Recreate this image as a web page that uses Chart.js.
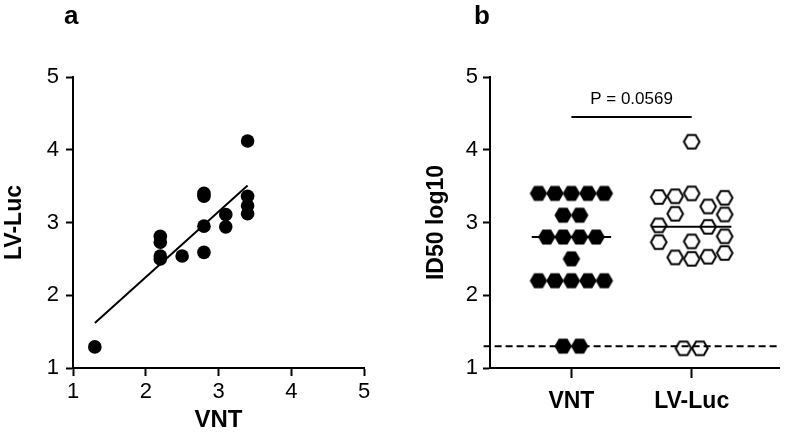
<!DOCTYPE html>
<html>
<head>
<meta charset="utf-8">
<script src="https://cdn.jsdelivr.net/npm/chart.js@4.4.1/dist/chart.umd.min.js"></script>
<style>
  html, body { margin: 0; padding: 0; background: #fff; }
  #wrap { position: relative; width: 788px; height: 435px; overflow: hidden; background: #fff; }
  canvas { position: absolute; top: 0; }
  .plabel { position: absolute; font: bold 26px "Liberation Sans", Arial, sans-serif; color: #000; line-height: 1; }
</style>
</head>
<body>
<div id="wrap">
  <canvas id="ca" width="390" height="435" style="left:0px"></canvas>
  <canvas id="cb" width="398" height="435" style="left:390px"></canvas>
  <div class="plabel" style="left:64px; top:2px;">a</div>
  <div class="plabel" style="left:474px; top:2px;">b</div>
</div>
<script>
// ---------- Panel a data (correlation) ----------
const corrVNT   = [1.3, 2.2, 2.2, 2.2, 2.2, 2.5, 2.8, 2.8, 2.8, 2.8, 3.1, 3.1, 3.4, 3.4, 3.4, 3.4];
const corrLVLuc = [1.29, 2.81, 2.73, 2.54, 2.50, 2.54, 3.40, 3.36, 2.95, 2.59, 3.11, 2.94, 4.12, 3.36, 3.23, 3.12];
const fitX = [1.3, 3.4];
const fitY = [1.62, 3.51];
const axisTicksA = [1, 2, 3, 4, 5];

// ---------- Panel b data (ID50 log10 per assay) ----------
const groups = ['VNT', 'LV-Luc'];
const vntValues = [3.4, 3.4, 3.4, 3.4, 3.4, 3.1, 3.1, 2.8, 2.8, 2.8, 2.8, 2.5, 2.2, 2.2, 2.2, 2.2, 2.2, 1.3, 1.3];
const vntSlots  = [-2, -1, 0, 1, 2, -0.5, 0.5, -1.5, -0.5, 0.5, 1.5, 0, -2, -1, 0, 1, 2, -0.5, 0.5];
const lvValues  = [4.11, 3.35, 3.36, 3.40, 3.22, 3.34, 3.12, 3.11, 2.96, 2.94, 2.73, 2.74, 2.81, 2.52, 2.50, 2.53, 2.58, 1.27, 1.27];
const lvSlots   = [0, -2, -1, 0, 1, 2, -1, 2, -2, 1, -2, 0, 2, -1, 0, 1, 2, -0.5, 0.5];
const medians = [2.8, 2.94];
const cutoff = 1.3;
const pLabel = 'P = 0.0569';
const pBarY = 4.45;
const pTextY = 4.70;

// ---------- styling / layout constants ----------
const FONT = '"Liberation Sans", Arial, Helvetica, sans-serif';
const slotSpacing = 0.137;
const medianHalf = 0.33;

function hexCanvas(r, filled) {
  const w = Math.ceil(2 * r + 4), h = Math.ceil(Math.sqrt(3) * r + 4);
  const c = document.createElement('canvas');
  c.width = w; c.height = h;
  const g = c.getContext('2d');
  g.translate(w / 2, h / 2);
  g.beginPath();
  for (let i = 0; i < 6; i++) {
    const a = Math.PI / 3 * i;
    const px = r * Math.cos(a), py = r * Math.sin(a);
    if (i === 0) g.moveTo(px, py); else g.lineTo(px, py);
  }
  g.closePath();
  if (filled) { g.fillStyle = '#000'; g.fill(); }
  else { g.lineWidth = 2; g.strokeStyle = '#000'; g.stroke(); }
  return c;
}
const hexFilled = hexCanvas(8.7, true);
const hexOpen = hexCanvas(7.8, false);

function axisStyle(tickLen) {
  return {
    grid: { display: true, drawOnChartArea: false, drawTicks: true, tickLength: tickLen, tickWidth: 2, tickColor: '#000' },
    border: { display: true, color: '#000', width: 2 }
  };
}

Chart.defaults.font.family = FONT;
Chart.defaults.color = '#000';

// ---------- Panel a ----------
new Chart(document.getElementById('ca'), {
  type: 'scatter',
  data: {
    datasets: [
      {
        data: corrVNT.map((v, i) => ({ x: v, y: corrLVLuc[i] })),
        pointRadius: 6.8, pointBackgroundColor: '#000', pointBorderWidth: 0, borderColor: '#000'
      },
      {
        type: 'line',
        data: fitX.map((v, i) => ({ x: v, y: fitY[i] })),
        borderColor: '#000', borderWidth: 2, pointRadius: 0, fill: false, clip: false
      }
    ]
  },
  options: {
    responsive: false, animation: false, devicePixelRatio: 1,
    layout: { padding: { top: 77, right: 26, left: 0, bottom: 0 } },
    plugins: { legend: { display: false }, tooltip: { enabled: false } },
    scales: {
      x: Object.assign({
        type: 'linear', min: 1, max: 5,
        afterBuildTicks: s => { s.ticks = axisTicksA.map(v => ({ value: v })); },
        afterFit: s => { s.height = 67; },
        ticks: { font: { size: 22 }, color: '#000', padding: 3 },
        title: { display: true, text: 'VNT', font: { size: 24, weight: 'bold' }, color: '#000', padding: { top: 0, bottom: 0 } }
      }, axisStyle(8)),
      y: Object.assign({
        type: 'linear', min: 1, max: 5,
        afterBuildTicks: s => { s.ticks = axisTicksA.map(v => ({ value: v })); },
        afterFit: s => { s.width = 73; },
        ticks: { font: { size: 22 }, color: '#000', padding: 7 },
        title: { display: true, text: 'LV-Luc', font: { size: 23, weight: 'bold' }, color: '#000', padding: { top: 1, bottom: 0 } }
      }, axisStyle(7))
    }
  }
});

// ---------- Panel b ----------
const pTextPlugin = {
  id: 'pText',
  afterDatasetsDraw(chart) {
    const { ctx, scales: { x, y } } = chart;
    ctx.save();
    ctx.font = '17px ' + FONT;
    ctx.fillStyle = '#000';
    ctx.textAlign = 'center';
    ctx.textBaseline = 'middle';
    ctx.fillText(pLabel, x.getPixelForValue(1.5), y.getPixelForValue(pTextY));
    ctx.restore();
  }
};

const lineDs = (pts, extra) => Object.assign({
  type: 'line', data: pts, borderColor: '#000', borderWidth: 2, pointRadius: 0, fill: false, clip: false
}, extra || {});

new Chart(document.getElementById('cb'), {
  type: 'scatter',
  data: {
    datasets: [
      {
        data: vntValues.map((v, i) => ({ x: 1 + vntSlots[i] * slotSpacing, y: v })),
        pointStyle: hexFilled, pointRadius: 8
      },
      {
        data: lvValues.map((v, i) => ({ x: 2 + lvSlots[i] * slotSpacing, y: v })),
        pointStyle: hexOpen, pointRadius: 8
      },
      lineDs([{ x: 1 - medianHalf, y: medians[0] }, { x: 1 + medianHalf, y: medians[0] }]),
      lineDs([{ x: 2 - medianHalf, y: medians[1] }, { x: 2 + medianHalf, y: medians[1] }]),
      lineDs([{ x: 1, y: pBarY }, { x: 2, y: pBarY }]),
      lineDs([{ x: 0.27, y: cutoff }, { x: 2.73, y: cutoff }], { borderDash: [7, 4] })
    ]
  },
  options: {
    responsive: false, animation: false, devicePixelRatio: 1,
    layout: { padding: { top: 77, right: 0, left: 0, bottom: 0 } },
    plugins: { legend: { display: false }, tooltip: { enabled: false } },
    scales: {
      x: Object.assign({
        type: 'linear', min: 0.323, max: 2.726,
        afterBuildTicks: s => { s.ticks = groups.map((g, i) => ({ value: i + 1 })); },
        afterFit: s => { s.height = 67; },
        ticks: { font: { size: 23, weight: 'bold' }, color: '#000', padding: 10,
                 callback: v => groups[Math.round(v) - 1] }
      }, axisStyle(10)),
      y: Object.assign({
        type: 'linear', min: 1, max: 5,
        afterBuildTicks: s => { s.ticks = axisTicksA.map(v => ({ value: v })); },
        afterFit: s => { s.width = 100; },
        ticks: { font: { size: 22 }, color: '#000', padding: 5 },
        title: { display: true, text: 'ID50 log10', font: { size: 23, weight: 'bold' }, color: '#000', padding: { top: 33, bottom: 0 } }
      }, axisStyle(7))
    }
  },
  plugins: [pTextPlugin]
});
</script>
</body>
</html>
